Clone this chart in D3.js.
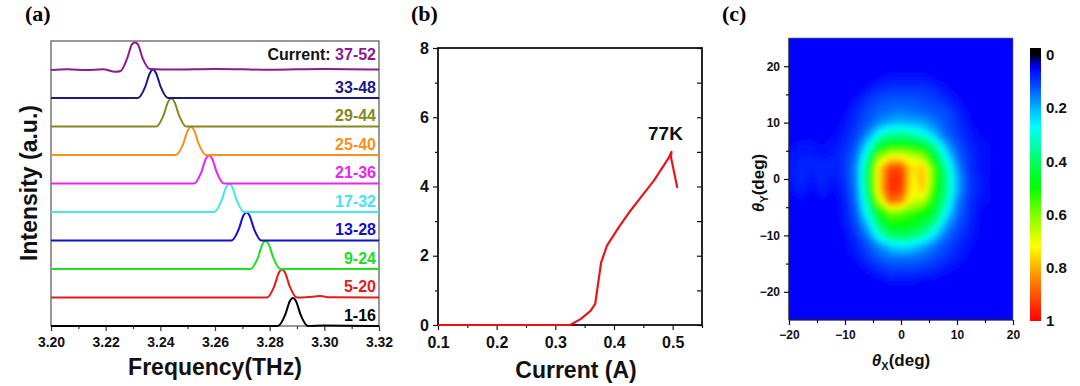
<!DOCTYPE html>
<html>
<head>
<meta charset="utf-8">
<script src="https://cdnjs.cloudflare.com/ajax/libs/d3/7.8.5/d3.min.js"></script>
<style>
  body { margin: 0; background: #fff; }
  svg text { font-family: Arial, "Liberation Sans", sans-serif; font-weight: bold; }
</style>
</head>
<body>
<div id="wrapper"></div>
<script>
// ---------- (a) spectra: [frequency THz, normalised intensity] ----------
const spectraLabels = ["1-16", "5-20", "9-24", "13-28", "17-32", "21-36", "25-40", "29-44", "33-48", "37-52"]
const spectraColors = ["#000000", "#e41a1c", "#22dd22", "#1010cc", "#44e4f0", "#ee22ee", "#f7901e", "#888822", "#1a1a85", "#8e1b8e"]
const spectra = [
  [[3.200,0],[3.283,0],[3.2857,0.4],[3.2874,0.88],[3.2885,0.98],[3.2896,0.88],[3.2913,0.4],[3.294,0],[3.300,0.02],[3.320,0]],
  [[3.200,0],[3.279,0],[3.2817,0.4],[3.2834,0.88],[3.2845,0.98],[3.2856,0.88],[3.2873,0.4],[3.290,0],[3.2935,0.01],[3.2985,0.05],[3.302,0.01],[3.320,0]],
  [[3.200,0],[3.273,0],[3.2757,0.4],[3.2774,0.88],[3.2785,0.98],[3.2796,0.88],[3.2813,0.4],[3.284,0],[3.320,0]],
  [[3.200,0],[3.266,0],[3.2687,0.4],[3.2704,0.88],[3.2715,0.98],[3.2726,0.88],[3.2743,0.4],[3.277,0],[3.320,0]],
  [[3.200,0],[3.2597,0],[3.2624,0.4],[3.2641,0.88],[3.2652,0.98],[3.2663,0.88],[3.268,0.4],[3.2707,0],[3.320,0]],
  [[3.200,0],[3.2523,0],[3.255,0.4],[3.2567,0.88],[3.2578,0.98],[3.2589,0.88],[3.2606,0.4],[3.2633,0],[3.320,0]],
  [[3.200,0],[3.2457,0],[3.2484,0.4],[3.2501,0.88],[3.2512,0.98],[3.2523,0.88],[3.254,0.4],[3.2567,0],[3.320,0]],
  [[3.200,0],[3.2385,0],[3.2412,0.4],[3.2429,0.88],[3.244,0.98],[3.2451,0.88],[3.2468,0.4],[3.2495,0],[3.320,0]],
  [[3.200,0],[3.2318,0],[3.2345,0.4],[3.2362,0.88],[3.2373,1.0],[3.2384,0.88],[3.2401,0.4],[3.2428,0],[3.320,0]],
  [[3.200,-0.02],[3.206,0.01],[3.213,-0.02],[3.219,0.01],[3.2235,-0.08],[3.2255,-0.05],[3.2279,0.4],[3.2296,0.88],[3.2307,0.95],[3.2318,0.88],[3.2335,0.4],[3.2362,0.02],[3.245,0],[3.26,0.02],[3.28,-0.01],[3.30,0.02],[3.32,0]]
]
const freqTicks = [3.20, 3.22, 3.24, 3.26, 3.28, 3.30, 3.32]
const freqMinor = [3.21, 3.23, 3.25, 3.27, 3.29, 3.31]

// ---------- (b) output vs current ----------
const current = [0.10, 0.20, 0.30, 0.325, 0.343, 0.360, 0.368, 0.378, 0.388, 0.408, 0.428, 0.445, 0.468, 0.494, 0.498, 0.497, 0.508]
const power = [0, 0, 0, 0, 0.17, 0.41, 0.61, 1.8, 2.29, 2.82, 3.30, 3.67, 4.17, 4.85, 5.0, 4.85, 3.96]
const currentTicks = [0.1, 0.2, 0.3, 0.4, 0.5]
const currentMinor = [0.15, 0.25, 0.35, 0.45, 0.55]
const powerTicks = [0, 2, 4, 6, 8]
const powerMinor = [1, 3, 5, 7]

// ---------- (c) far field, percent of max ----------
const thetaX = [-20,-18,-16,-14,-12,-10,-8,-6,-4,-2,0,2,4,6,8,10,12,14,16,18,20]
const thetaY = [24,22,20,18,16,14,12,10,8,6,4,2,0,-2,-4,-6,-8,-10,-12,-14,-16,-18,-20,-22,-24]
const farField = [
  [5,5,5,5,5,5,5,5,5,5,5,5,5,5,5,5,5,5,5,5,5],
  [5,5,5,5,5,5,5,5,5,5,5,5,5,5,5,5,5,5,5,5,5],
  [5,5,5,5,5,5,5,5,5,5,5,5,5,5,5,5,5,5,5,5,5],
  [5,5,5,5,5,5,5,5,6,7,7,7,7,6,5,5,5,5,5,5,5],
  [5,5,5,5,5,5,5,7,9,10,10,10,10,9,7,5,5,5,5,5,5],
  [5,5,5,5,5,5,7,10,12,13,13,13,12,11,9,7,5,5,5,5,5],
  [5,5,5,5,5,6,9,12,14,15,16,15,14,13,12,9,6,5,5,5,5],
  [5,5,5,5,5,7,10,13,17,20,21,20,19,16,13,10,7,5,5,5,5],
  [5,5,5,5,6,8,11,17,28,35,36,34,29,21,14,11,8,6,5,5,5],
  [6,7,7,6,7,9,13,25,44,48,50,48,45,36,20,13,9,7,6,5,5],
  [7,8,8,7,8,10,15,34,62,72,72,68,62,45,28,15,10,7,6,5,5],
  [7,9,8,9,8,10,17,40,75,92,92,75,78,55,35,18,10,7,6,5,5],
  [7,9,7,9,7,10,17,42,75,95,95,72,80,55,38,20,11,8,6,5,5],
  [6,8,6,8,6,9,16,40,75,95,93,72,78,52,38,20,11,8,6,5,5],
  [5,6,5,6,5,8,15,35,65,88,85,68,65,48,34,17,10,7,6,5,5],
  [5,5,5,5,5,8,13,30,48,60,58,55,50,45,28,15,10,6,5,5,5],
  [5,5,5,5,5,7,12,22,40,50,50,48,44,36,20,13,9,6,5,5,5],
  [5,5,5,5,5,6,10,16,30,40,42,40,34,24,15,11,8,6,5,5,5],
  [5,5,5,5,5,6,8,12,17,22,25,23,19,15,12,9,7,5,5,5,5],
  [5,5,5,5,5,5,7,10,13,15,15,15,14,12,10,8,6,5,5,5,5],
  [5,5,5,5,5,5,5,7,9,11,11,11,10,9,7,6,5,5,5,5,5],
  [5,5,5,5,5,5,5,5,6,7,7,7,6,6,5,5,5,5,5,5,5],
  [5,5,5,5,5,5,5,5,5,5,5,5,5,5,5,5,5,5,5,5,5],
  [5,5,5,5,5,5,5,5,5,5,5,5,5,5,5,5,5,5,5,5,5],
  [5,5,5,5,5,5,5,5,5,5,5,5,5,5,5,5,5,5,5,5,5]
]
const angleTicks = [-20, -10, 0, 10, 20]
const angleMinor = [-15, -5, 5, 15]
const barTicks = [0, 0.2, 0.4, 0.6, 0.8, 1]
const colorStops = [0, 0.02, 0.05, 0.12, 0.2, 0.27, 0.4, 0.5, 0.6, 0.72, 0.85, 1]
const colorValues = ["#000000", "#000080", "#0000ff", "#0050ff", "#00b4ff", "#00ffff", "#00ff60", "#00ff00", "#80ff00", "#ffff00", "#ff8000", "#ff0000"]

const svg = d3.select("#wrapper").append("svg")
  .attr("width", 1080).attr("height", 386)

function styleAxis(g, size, color) {
  g.select(".domain").remove()
  g.selectAll(".tick line").attr("stroke", color).attr("stroke-width", 1.2)
  g.selectAll(".tick text").attr("fill", "#111")
    .style("font-size", size + "px")
    .style("font-family", "Arial, 'Liberation Sans', sans-serif")
    .style("font-weight", "bold")
}

function panelLabel(x, txt) {
  svg.append("text").attr("x", x).attr("y", 21).text(txt)
    .style("font-family", "'Liberation Serif', 'Times New Roman', serif")
    .style("font-size", "22px")
}

// ===== (a) =====
const xA = d3.scaleLinear().domain([3.20, 3.32]).range([51, 379])
const yA = d3.scaleLinear().domain([0, 10]).range([326, 41])
const gA = svg.append("g")

gA.append("g").attr("transform", "translate(0,326)")
  .call(d3.axisBottom(xA).tickValues(freqMinor).tickSize(3).tickFormat(""))
  .call(g => styleAxis(g, 14, "#333"))
gA.append("g").attr("transform", "translate(0,326)")
  .call(d3.axisBottom(xA).tickValues(freqTicks).tickSize(5).tickPadding(6).tickFormat(d3.format(".2f")))
  .call(g => styleAxis(g, 14, "#333"))

gA.append("rect").attr("x", 51).attr("y", 41).attr("width", 328).attr("height", 285)
  .attr("fill", "none").attr("stroke", "#555").attr("stroke-width", 1.2)

const lineA = d3.line().x(d => xA(d[0])).y(d => yA(d[1])).curve(d3.curveMonotoneX)
spectra.forEach((s, i) => {
  gA.append("path")
    .attr("d", lineA(s.map(p => [p[0], p[1] + i])))
    .attr("fill", "none").attr("stroke", spectraColors[i]).attr("stroke-width", 2)
  const t = gA.append("text").attr("x", 376)
    .attr("y", yA(i + (i === 9 ? 0.35 : 0.18)))
    .attr("text-anchor", "end").attr("font-size", 16)
  if (i === 9) t.append("tspan").attr("fill", "#111").text("Current: ")
  t.append("tspan").attr("fill", spectraColors[i]).text(spectraLabels[i])
})

gA.append("text").attr("x", 215).attr("y", 375).attr("text-anchor", "middle")
  .attr("font-size", 23).attr("fill", "#111").text("Frequency(THz)")
gA.append("text").attr("transform", "translate(37,183) rotate(-90)").attr("text-anchor", "middle")
  .attr("font-size", 23).attr("fill", "#111").text("Intensity (a.u.)")
panelLabel(25, "(a)")

// ===== (b) =====
const xB = d3.scaleLinear().domain([0.1, 0.55]).range([438, 702])
const yB = d3.scaleLinear().domain([0, 8]).range([325, 48])
const gB = svg.append("g")

gB.append("g").attr("transform", "translate(0,325)")
  .call(d3.axisBottom(xB).tickValues(currentMinor).tickSize(3).tickFormat(""))
  .call(g => styleAxis(g, 16, "#111"))
gB.append("g").attr("transform", "translate(0,325)")
  .call(d3.axisBottom(xB).tickValues(currentTicks).tickSize(5).tickPadding(7).tickFormat(d3.format(".1f")))
  .call(g => styleAxis(g, 16, "#111"))
gB.append("g").attr("transform", "translate(438,0)")
  .call(d3.axisLeft(yB).tickValues(powerMinor).tickSize(3).tickFormat(""))
  .call(g => styleAxis(g, 16, "#111"))
gB.append("g").attr("transform", "translate(438,0)")
  .call(d3.axisLeft(yB).tickValues(powerTicks).tickSize(5).tickPadding(4))
  .call(g => styleAxis(g, 16, "#111"))
gB.append("g").attr("transform", "translate(702,0)")
  .call(d3.axisLeft(yB).tickValues(d3.merge([powerTicks, powerMinor])).tickSize(5).tickFormat(""))
  .call(g => styleAxis(g, 16, "#111"))

gB.append("rect").attr("x", 438).attr("y", 48).attr("width", 264).attr("height", 277)
  .attr("fill", "none").attr("stroke", "#111").attr("stroke-width", 1.8)

gB.append("path")
  .attr("d", d3.line().x((d, i) => xB(current[i])).y(d => yB(d))(power))
  .attr("fill", "none").attr("stroke", "#e8141c").attr("stroke-width", 2.2)
  .attr("stroke-linejoin", "round")

gB.append("text").attr("x", 648).attr("y", 140).attr("font-size", 19).attr("fill", "#111").text("77K")
gB.append("text").attr("x", 576).attr("y", 378).attr("text-anchor", "middle")
  .attr("font-size", 23).attr("fill", "#111").text("Current (A)")
panelLabel(411, "(b)")

// ===== (c) =====
const xC = d3.scaleLinear().domain([-20, 20]).range([789, 1013])
const yC = d3.scaleLinear().domain([-25, 25]).range([320, 38])
const color = d3.scaleLinear().domain(colorStops).range(colorValues).clamp(true)
const gC = svg.append("g")

const defs = svg.append("defs")
defs.append("clipPath").attr("id", "clipC").append("rect")
  .attr("x", 789).attr("y", 38).attr("width", 224).attr("height", 282)
defs.append("filter").attr("id", "soft").attr("x", "-5%").attr("y", "-5%").attr("width", "110%").attr("height", "110%")
  .append("feGaussianBlur").attr("stdDeviation", 2.6)

const nx = thetaX.length, ny = thetaY.length
const gx = d3.scaleLinear().domain([0.5, nx - 0.5]).range([xC(thetaX[0]), xC(thetaX[nx - 1])])
const gy = d3.scaleLinear().domain([0.5, ny - 0.5]).range([yC(thetaY[0]), yC(thetaY[ny - 1])])
const gridPath = d3.geoPath(d3.geoTransform({
  point(x, y) { this.stream.point(gx(x), gy(y)) }
}))
const contours = d3.contours().size([nx, ny]).thresholds(d3.range(0, 100, 1))(farField.flat())

const heat = gC.append("g").attr("clip-path", "url(#clipC)")
heat.append("rect").attr("x", 780).attr("y", 30).attr("width", 240).attr("height", 300)
  .attr("fill", color(0.05))
heat.append("g").attr("filter", "url(#soft)")
  .selectAll("path").data(contours).join("path")
  .attr("d", gridPath)
  .attr("fill", d => color(d.value / 100))

gC.append("rect").attr("x", 789).attr("y", 38).attr("width", 224).attr("height", 282)
  .attr("fill", "none").attr("stroke", "#777").attr("stroke-width", 0.6)

gC.append("g").attr("transform", "translate(0,320)")
  .call(d3.axisBottom(xC).tickValues(angleMinor).tickSize(3).tickFormat(""))
  .call(g => styleAxis(g, 12, "#111"))
gC.append("g").attr("transform", "translate(0,320)")
  .call(d3.axisBottom(xC).tickValues(angleTicks).tickSize(5).tickPadding(5))
  .call(g => styleAxis(g, 12, "#111"))
gC.append("g").attr("transform", "translate(789,0)")
  .call(d3.axisLeft(yC).tickValues(angleMinor).tickSize(3).tickFormat(""))
  .call(g => styleAxis(g, 12, "#111"))
gC.append("g").attr("transform", "translate(789,0)")
  .call(d3.axisLeft(yC).tickValues(angleTicks).tickSize(5).tickPadding(4))
  .call(g => styleAxis(g, 12, "#111"))
gC.append("line").attr("x1", 789).attr("x2", 1013).attr("y1", 320).attr("y2", 320)
  .attr("stroke", "#111").attr("stroke-width", 1.2)
gC.append("line").attr("x1", 789).attr("x2", 789).attr("y1", 38).attr("y2", 320)
  .attr("stroke", "#111").attr("stroke-width", 1.2)

// colour bar
const yBar = d3.scaleLinear().domain([-0.025, 1]).range([48, 321])
const grad = defs.append("linearGradient").attr("id", "barGrad")
  .attr("x1", 0).attr("y1", 0).attr("x2", 0).attr("y2", 1)
grad.append("stop").attr("offset", 0).attr("stop-color", "#000000")
colorStops.forEach((v, i) => {
  grad.append("stop").attr("offset", (yBar(v) - 48) / 273).attr("stop-color", colorValues[i])
})
gC.append("rect").attr("x", 1030).attr("y", 48).attr("width", 11).attr("height", 273)
  .attr("fill", "url(#barGrad)")
gC.selectAll(".barlab").data(barTicks).join("text")
  .attr("x", 1046).attr("y", d => yBar(d)).attr("dy", "0.36em")
  .attr("font-size", 15).attr("fill", "#111")
  .text(d => d3.format("~g")(d))

const xt = gC.append("text").attr("x", 901).attr("y", 366).attr("text-anchor", "middle")
  .attr("font-size", 17).attr("fill", "#111")
xt.append("tspan").attr("font-style", "italic").text("θ")
xt.append("tspan").attr("font-size", 11).attr("dy", 4).text("X")
xt.append("tspan").attr("dy", -4).text("(deg)")
const yt = gC.append("text").attr("transform", "translate(764,183) rotate(-90)").attr("text-anchor", "middle")
  .attr("font-size", 17).attr("fill", "#111")
yt.append("tspan").attr("font-style", "italic").text("θ")
yt.append("tspan").attr("font-size", 11).attr("dy", 4).text("Y")
yt.append("tspan").attr("dy", -4).text("(deg)")
panelLabel(722, "(c)")
</script>
</body>
</html>
